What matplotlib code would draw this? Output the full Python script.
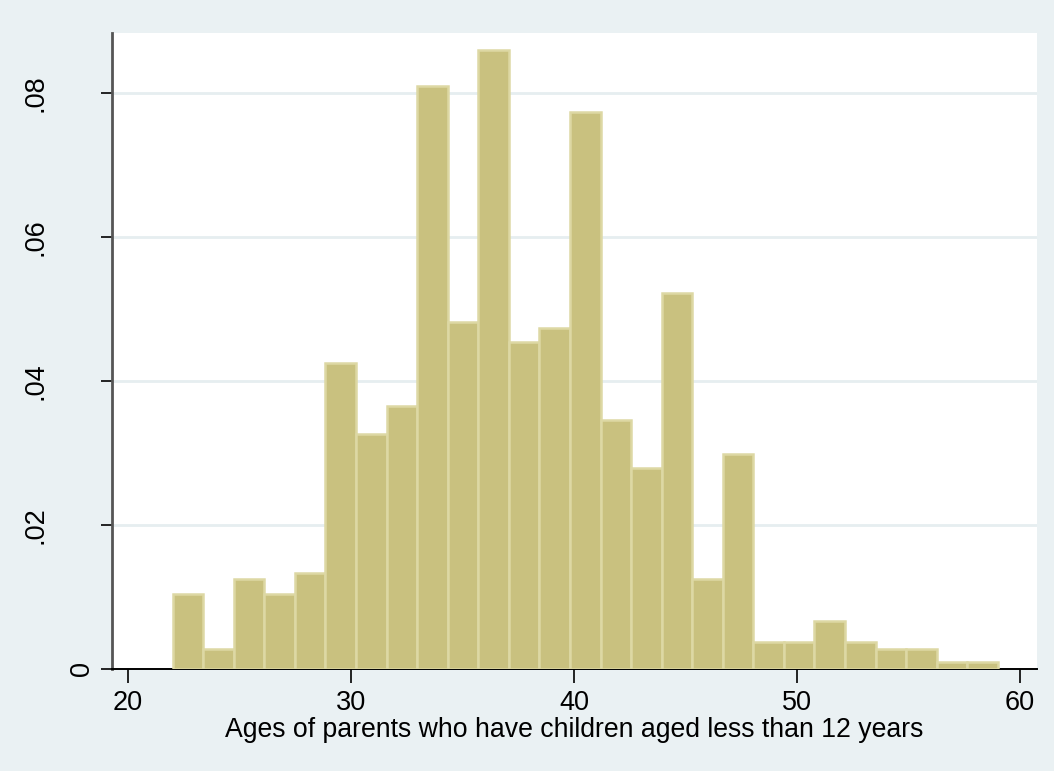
import matplotlib
matplotlib.use("Agg")
import matplotlib.pyplot as plt
import numpy as np

plt.rcParams['font.family'] = ['Liberation Sans', 'DejaVu Sans']

# histogram of parent ages: 27 bins from 22 to 59
bin_start = 22.0
bin_end = 59.0
density = [0.0104, 0.0028, 0.0125, 0.0104, 0.0134, 0.0426, 0.0327, 0.0366,
           0.0811, 0.0483, 0.0861, 0.0454, 0.0474, 0.0774, 0.0346, 0.0280,
           0.0522, 0.0125, 0.0299, 0.0038, 0.0038, 0.0067, 0.0038, 0.0028,
           0.0028, 0.0010, 0.0010]
xticks = [20, 30, 40, 50, 60]
yticks = [0, 0.02, 0.04, 0.06, 0.08]
ytick_labels = ['0', '.02', '.04', '.06', '.08']

bg = '#EAF1F3'
fill = '#C9C17F'
edge = '#DDD8A4'

fig = plt.figure(figsize=(10.54, 7.71), dpi=100, facecolor=bg)
ax = fig.add_axes([0.1063, 0.1323, 0.8776, 0.8249])
ax.set_facecolor('white')

width = (bin_end - bin_start) / len(density)
lefts = bin_start + width * np.arange(len(density))
ax.bar(lefts, density, width=width, align='edge', color=fill,
       edgecolor=edge, linewidth=1.8, zorder=3)

ax.set_xlim(19.28, 60.76)
ax.set_ylim(0, 0.0884)
ax.set_xticks(xticks)
ax.set_yticks(yticks)
ax.set_yticklabels([])
ax.grid(axis='y', color='#E6EEF0', linewidth=2, zorder=0)

# rotated y labels, right-justified by their unrotated width (Stata style)
for val, lab in zip(yticks, ytick_labels):
    shift = 17 if len(lab) == 1 else 64
    ax.annotate(lab, xy=(0, val), xycoords=ax.get_yaxis_transform(),
                xytext=(-shift, 0), textcoords='offset pixels',
                rotation=90, ha='right', va='center', fontsize=19.5,
                annotation_clip=False)

for s in ['top', 'right']:
    ax.spines[s].set_visible(False)
ax.spines['left'].set_color('#555555')
ax.spines['left'].set_linewidth(2)
ax.spines['bottom'].set_color('black')
ax.spines['bottom'].set_linewidth(1.4)

ax.tick_params(axis='x', length=10, width=1.2, labelsize=19.5, pad=5)
ax.tick_params(axis='y', length=8, width=1.2)
ax.set_xlabel('Ages of parents who have children aged less than 12 years',
              fontsize=19.2, labelpad=1)

fig.savefig('out.png', dpi=100, facecolor=bg)
